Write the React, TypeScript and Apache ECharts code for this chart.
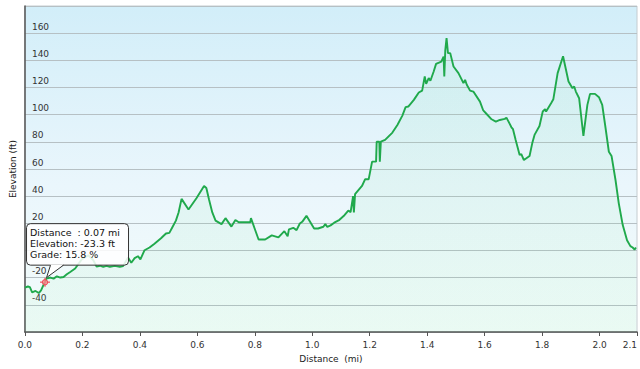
import React, { useEffect, useRef } from "react";
import * as echarts from "echarts";

const distances: number[] = [
  0, 0.0104, 0.0173, 0.0252, 0.0369, 0.0483, 0.0562, 0.0656, 0.07, 0.0749,
  0.0887, 0.1, 0.1114, 0.1232, 0.1346, 0.1459, 0.1577, 0.1749, 0.1977, 0.2208,
  0.2381, 0.2494, 0.2612, 0.2726, 0.2839, 0.2957, 0.3129, 0.3302, 0.3416, 0.3588,
  0.3702, 0.3819, 0.3933, 0.4019, 0.4164, 0.4337, 0.4509, 0.4623, 0.4737, 0.4909,
  0.5027, 0.5141, 0.5254, 0.5348, 0.5451, 0.5693, 0.5969, 0.6234, 0.6314, 0.6407,
  0.6521, 0.6635, 0.6842, 0.698, 0.7187, 0.7325, 0.7442, 0.7842, 0.7866, 0.8132,
  0.836, 0.8591, 0.8822, 0.9029, 0.9143, 0.9188, 0.9339, 0.9453, 0.9567, 0.965,
  0.9798, 1.0064, 1.0202, 1.0385, 1.0454, 1.0523, 1.0637, 1.0764, 1.0947, 1.112,
  1.1254, 1.1334, 1.142, 1.1448, 1.1489, 1.173, 1.1841, 1.1962, 1.2082, 1.222,
  1.2241, 1.2334, 1.2351, 1.2386, 1.2534, 1.2789, 1.2962, 1.3135, 1.3248, 1.3341,
  1.3535, 1.3707, 1.3824, 1.3914, 1.3963, 1.4052, 1.4111, 1.4225, 1.4308, 1.449,
  1.457, 1.4594, 1.4628, 1.4673, 1.4722, 1.4801, 1.4915, 1.5087, 1.5205, 1.526,
  1.5318, 1.5377, 1.5491, 1.5605, 1.5836, 1.595, 1.6067, 1.624, 1.6388, 1.6526,
  1.6699, 1.6757, 1.6871, 1.693, 1.6985, 1.7078, 1.7216, 1.7275, 1.7364, 1.7561,
  1.7654, 1.7734, 1.7906, 1.802, 1.8103, 1.8137, 1.831, 1.8389, 1.8538, 1.8727,
  1.8917, 1.9055, 1.9114, 1.9172, 1.9286, 1.9435, 1.9573, 1.9666, 1.9838, 1.9976,
  2.009, 2.0207, 2.0321, 2.0414, 2.0552, 2.0666, 2.0804, 2.0953, 2.107, 2.1149,
  2.1218, 2.1263,
];

const elevations: number[] = [
  -27.3, -26.5, -27, -30.8, -29.8, -31.3, -29.3, -25, -23.3, -20.7,
  -19.9, -20.7, -19, -19.9, -19.5, -17.5, -15.8, -13.3, -6.5, -3.5,
  -7.2, -11.8, -11.2, -12, -11.3, -12, -11.3, -12, -11.5, -5.2,
  -9, -5.6, -4.2, -6.5, 0.2, 2.2, 5, 7, 9, 12.5,
  13, 17.5, 22, 28, 38, 30.2, 38.5, 47.5, 46, 37.5,
  28, 22, 19.4, 23.8, 17.6, 22.4, 20.8, 20.8, 23.8, 8.1,
  8.1, 11.1, 9.6, 14.2, 10.5, 15.5, 16.7, 15, 19.9, 21.1,
  25.5, 16.2, 16.2, 17.5, 19.4, 17.4, 18.5, 20.5, 22.6, 26,
  29.4, 28.2, 40, 28, 41.5, 47.5, 52.5, 52.4, 65.4, 65.4,
  80.1, 80.1, 65.4, 80.1, 81.4, 86.8, 92.4, 99.3, 105.5, 106,
  110.9, 116.3, 117.7, 128.1, 122.7, 126.9, 125, 131.8, 137.4, 139.1,
  142.8, 128.1, 147.3, 156.4, 145.3, 145.3, 135.5, 130.6, 125.6, 123.2,
  125.6, 122, 117.7, 117, 109.6, 103.1, 100.5, 96.6, 94.9, 96.1,
  96.9, 97.8, 93.2, 90.7, 89.3, 81.4, 70.3, 71, 66.6, 69.6,
  78.9, 85.1, 91.7, 102.3, 104, 102.3, 108.4, 111.4, 130.6, 143,
  124.4, 119.5, 120.7, 117, 112.1, 84.3, 107.2, 115.3, 115.3, 112.9,
  107.2, 90, 72.7, 69.6, 51.9, 34.7, 18.7, 7.6, 3.2, 2.2,
  0.7, 2.2,
];

const tooltipDistance = 0.07;
const tooltipElevation = -23.3;
const tooltipGrade = 15.8;

const xMin = 0;
const xMax = 2.13;
const yMin = -60;
const yMax = 180;

const FONT = "DejaVu Sans";

export default function App() {
  const ref = useRef<HTMLDivElement>(null);

  useEffect(() => {
    if (!ref.current) return;
    const chart = echarts.init(ref.current, undefined, { renderer: "svg" });
    const points = distances.map((d, i) => [d, elevations[i]]);

    chart.setOption({
      animation: false,
      grid: {
        left: 21,
        top: 6,
        right: 1,
        bottom: 37,
        show: true,
        borderColor: "#c4ccd0",
        borderWidth: 1,
        backgroundColor: {
          type: "linear",
          x: 0,
          y: 0,
          x2: 0,
          y2: 1,
          colorStops: [
            { offset: 0, color: "#d2eef9" },
            { offset: 0.55, color: "#eaf6fc" },
            { offset: 1, color: "#f3fcfa" },
          ],
        },
      },
      xAxis: {
        type: "value",
        min: xMin,
        max: xMax,
        interval: 0.2,
        name: "Distance  (mi)",
        nameLocation: "middle",
        nameGap: 22,
        nameTextStyle: { fontFamily: FONT, fontSize: 9, color: "#222" },
        axisLine: { show: true, onZero: false, lineStyle: { color: "#555", width: 1.5 } },
        axisTick: { show: true, length: 4, lineStyle: { color: "#555" } },
        axisLabel: {
          formatter: (v: number) => v.toFixed(1),
          margin: 8,
          fontFamily: FONT,
          fontSize: 9,
          color: "#333",
          showMaxLabel: true,
          alignMaxLabel: "right",
        },
        splitLine: { show: false },
      },
      yAxis: {
        type: "value",
        min: yMin,
        max: yMax,
        interval: 20,
        name: "Elevation (ft)",
        nameLocation: "middle",
        nameGap: 4,
        nameRotate: 90,
        nameTextStyle: { fontFamily: FONT, fontSize: 9, color: "#222" },
        axisLine: { show: true, lineStyle: { color: "#555", width: 1.5 } },
        axisTick: { show: false },
        axisLabel: {
          inside: true,
          margin: 7,
          showMinLabel: false,
          showMaxLabel: false,
          // the 0 label sits under the tooltip box in the reference
          formatter: (v: number) => (v === 0 ? "" : String(v)),
          verticalAlign: "bottom",
          lineHeight: 13,
          fontFamily: FONT,
          fontSize: 9,
          color: "#333",
        },
        splitLine: { show: true, lineStyle: { color: "#b6c0c4", width: 1 } },
      },
      series: [
        {
          type: "line",
          data: points,
          symbol: "none",
          lineStyle: { color: "#20a94c", width: 1.9 },
          areaStyle: {
            origin: "start",
            color: {
              type: "linear",
              x: 0,
              y: 0,
              x2: 0,
              y2: 1,
              colorStops: [
                { offset: 0, color: "rgba(110, 220, 150, 0.13)" },
                { offset: 1, color: "rgba(110, 225, 150, 0.10)" },
              ],
            },
          },
          z: 3,
        },
      ],
    });

    const p = chart.convertToPixel({ gridIndex: 0 }, [tooltipDistance, tooltipElevation]) as number[];
    const px = p[0];
    const py = p[1];
    const boxX = px - 18.5;
    const boxY = py - 58.5;
    const boxW = 102;
    const boxH = 41.5;
    const red = "#f0505e";

    chart.setOption({
      graphic: [
        {
          type: "group",
          z: 100,
          children: [
            {
              type: "line",
              shape: { x1: px - 5, y1: py, x2: px + 5, y2: py },
              style: { stroke: red, lineWidth: 1.2 },
              z: 100,
            },
            {
              type: "line",
              shape: { x1: px, y1: py - 4.5, x2: px, y2: py + 4.5 },
              style: { stroke: red, lineWidth: 1.2 },
              z: 100,
            },
            {
              type: "circle",
              shape: { cx: px, cy: py, r: 2.6 },
              style: { stroke: red, fill: "rgba(255,170,170,0.5)", lineWidth: 1.2 },
              z: 101,
            },
            {
              type: "rect",
              shape: { x: boxX, y: boxY, width: boxW, height: boxH, r: 4 },
              style: { fill: "rgba(255,255,255,0.86)", stroke: "#333", lineWidth: 1 },
              z: 102,
            },
            {
              type: "polygon",
              shape: { points: [[px + 5.5, boxY + boxH - 0.6], [px + 18.5, boxY + boxH - 0.6], [px + 1.5, py - 4.5]] },
              style: { fill: "rgba(255,255,255,1)", stroke: "none" },
              z: 103,
            },
            {
              type: "polyline",
              shape: { points: [[px + 5.5, boxY + boxH], [px + 1.5, py - 4.5], [px + 18.5, boxY + boxH]] },
              style: { stroke: "#333", fill: "none", lineWidth: 1 },
              z: 104,
            },
            {
              type: "text",
              x: boxX + 3.5,
              y: boxY + 9,
              style: {
                text: `Distance  : ${tooltipDistance.toFixed(2)} mi`,
                fontFamily: FONT,
                fontSize: 9.5,
                fill: "#111",
                verticalAlign: "middle",
              },
              z: 105,
            },
            {
              type: "text",
              x: boxX + 3.5,
              y: boxY + 20,
              style: {
                text: `Elevation: ${tooltipElevation.toFixed(1)} ft`,
                fontFamily: FONT,
                fontSize: 9.5,
                fill: "#111",
                verticalAlign: "middle",
              },
              z: 105,
            },
            {
              type: "text",
              x: boxX + 3.5,
              y: boxY + 31.2,
              style: {
                text: `Grade: ${tooltipGrade.toFixed(1)} %`,
                fontFamily: FONT,
                fontSize: 9.5,
                fill: "#111",
                verticalAlign: "middle",
              },
              z: 105,
            },
          ],
        },
      ],
    });

    return () => chart.dispose();
  }, []);

  return (
    <div
      ref={ref}
      style={{ position: "absolute", left: 0, top: 0, width: 640, height: 369 }}
    />
  );
}
